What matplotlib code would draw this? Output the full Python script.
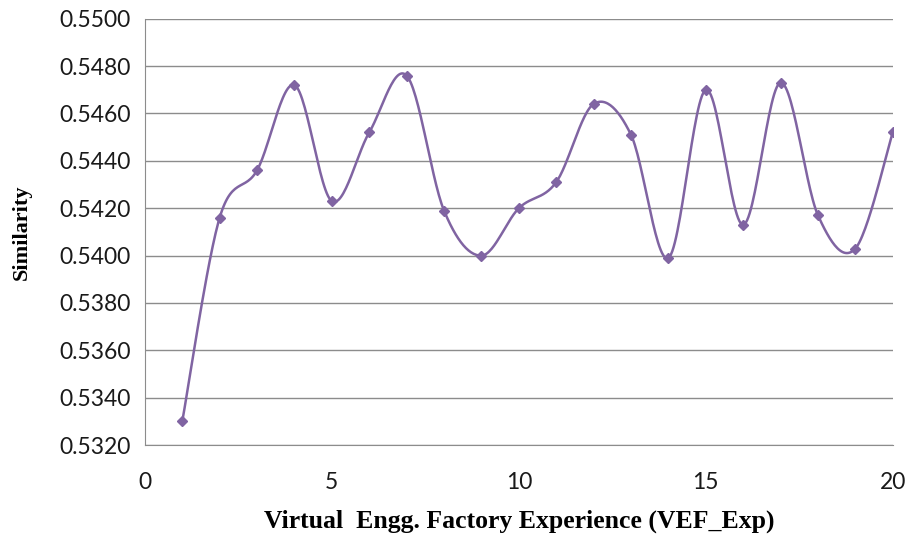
import numpy as np
import matplotlib.pyplot as plt

# values
x = np.arange(1, 21)
sim = [0.5330, 0.5416, 0.5436, 0.5472, 0.5423, 0.5452, 0.5476, 0.5419, 0.5400, 0.5420,
       0.5431, 0.5464, 0.5451, 0.5399, 0.5470, 0.5413, 0.5473, 0.5417, 0.5403, 0.5452]
yticks = [0.5320, 0.5340, 0.5360, 0.5380, 0.5400, 0.5420, 0.5440, 0.5460, 0.5480, 0.5500]
xticks = [0, 5, 10, 15, 20]


def smooth(px, py, n=30):
	"""Excel style smoothed line (Catmull-Rom through the points)"""
	px = np.asarray(px, float)
	py = np.asarray(py, float)
	P = np.column_stack([px, py])
	P = np.vstack([P[0], P, P[-1]])
	out = []
	t = np.linspace(0, 1, n)[:, None]
	for i in range(1, len(P) - 2):
		p0, p1, p2, p3 = P[i - 1], P[i], P[i + 1], P[i + 2]
		c1 = p1 + (p2 - p0) / 6.
		c2 = p2 - (p3 - p1) / 6.
		seg = (1 - t)**3 * p1 + 3 * (1 - t)**2 * t * c1 + 3 * (1 - t) * t**2 * c2 + t**3 * p2
		out.append(seg)
	out = np.vstack(out)
	return out[:, 0], out[:, 1]


col = '#8064A2'
fig = plt.figure(figsize=(9.11, 5.35), dpi=100)
ax = fig.add_axes([0.159, 0.168, 0.821, 0.797])

sx, sy = smooth(x, sim)
ax.plot(sx, sy, color=col, lw=1.8)
ax.plot(x, sim, 'D', color=col, ms=5, ls='none')

ax.set_xlim(0, 20)
ax.set_ylim(0.5320, 0.5500)
ax.set_xticks(xticks)
ax.set_yticks(yticks)
ax.set_yticklabels(['%.4f' % v for v in yticks])
ax.tick_params(length=0, labelsize=16.5, colors='#1a1a1a', pad=10)
ax.tick_params(axis='x', pad=19)
for lab in ax.get_xticklabels() + ax.get_yticklabels():
	lab.set_fontfamily('Lato')
ax.grid(axis='y', color='#8c8c8c', lw=1)
ax.set_axisbelow(True)
for s in ['top', 'right']:
	ax.spines[s].set_visible(False)
for s in ['left', 'bottom']:
	ax.spines[s].set_color('#8c8c8c')

ax.set_xlabel('Virtual  Engg. Factory Experience (VEF_Exp)', fontfamily='Liberation Serif',
	fontweight='bold', fontsize=18.5, labelpad=12)
ax.set_ylabel('Similarity', fontfamily='Liberation Serif', fontweight='bold', fontsize=16, labelpad=20)

fig.savefig('out.png', dpi=100)
